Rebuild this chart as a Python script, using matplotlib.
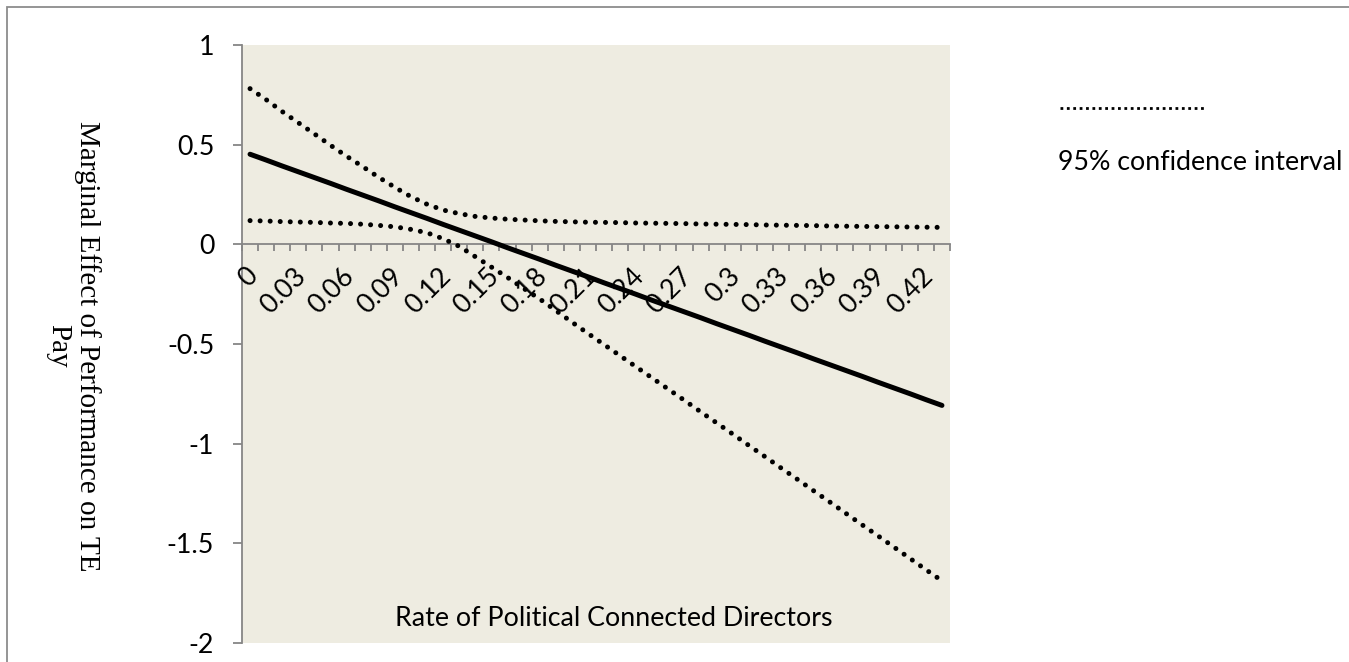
import matplotlib
matplotlib.use("Agg")
import matplotlib.pyplot as plt
from matplotlib.lines import Line2D
from matplotlib.patches import Rectangle
from matplotlib.ticker import FixedLocator, FuncFormatter, NullFormatter

# Rate of politically connected directors (category axis)
rates = [0.00, 0.01, 0.02, 0.03, 0.04, 0.05, 0.06, 0.07, 0.08, 0.09,
         0.10, 0.11, 0.12, 0.13, 0.14, 0.15, 0.16, 0.17, 0.18, 0.19,
         0.20, 0.21, 0.22, 0.23, 0.24, 0.25, 0.26, 0.27, 0.28, 0.29,
         0.30, 0.31, 0.32, 0.33, 0.34, 0.35, 0.36, 0.37, 0.38, 0.39,
         0.40, 0.41, 0.42, 0.43]

# Marginal effect of performance on TE pay
effect = [0.452, 0.423, 0.393, 0.364, 0.335, 0.306, 0.276, 0.247, 0.218, 0.188,
          0.159, 0.130, 0.100, 0.071, 0.042, 0.013, -0.017, -0.046, -0.075, -0.105,
          -0.134, -0.163, -0.193, -0.222, -0.251, -0.281, -0.310, -0.339, -0.368, -0.398,
          -0.427, -0.456, -0.486, -0.515, -0.544, -0.574, -0.603, -0.632, -0.661, -0.691,
          -0.720, -0.749, -0.779, -0.808]

# 95% confidence interval bounds
ci_high = [0.781, 0.726, 0.666, 0.610, 0.554, 0.497, 0.442, 0.390, 0.336, 0.286,
           0.239, 0.201, 0.172, 0.154, 0.140, 0.132, 0.126, 0.122, 0.118, 0.115,
           0.113, 0.111, 0.110, 0.109, 0.107, 0.106, 0.105, 0.104, 0.102, 0.101,
           0.100, 0.099, 0.097, 0.096, 0.095, 0.094, 0.092, 0.091, 0.090, 0.089,
           0.088, 0.087, 0.086, 0.085]
ci_low = [0.119, 0.117, 0.114, 0.112, 0.110, 0.107, 0.105, 0.101, 0.095, 0.088,
          0.075, 0.058, 0.028, -0.010, -0.062, -0.114, -0.166, -0.221, -0.274, -0.332,
          -0.390, -0.447, -0.503, -0.559, -0.615, -0.671, -0.727, -0.783, -0.840, -0.896,
          -0.952, -1.009, -1.065, -1.122, -1.178, -1.235, -1.291, -1.348, -1.405, -1.461,
          -1.518, -1.575, -1.632, -1.688]

y_ticks = [-2, -1.5, -1, -0.5, 0, 0.5, 1]

SANS = ["Lato", "DejaVu Sans"]
SERIF = ["Liberation Serif", "DejaVu Serif"]
AXIS_GREY = "#868686"
FS = 19.3

W, H = 1349, 662
fig = plt.figure(figsize=(W / 100, H / 100), dpi=100)
fig.patch.set_facecolor("white")

# chart frame (top and left edges visible)
fig.add_artist(Rectangle((7 / W, -0.1), 1.2, 1 - 6.5 / H + 0.1,
                         transform=fig.transFigure, fill=False,
                         edgecolor="#8c8c8c", linewidth=1.3))

ax = fig.add_axes([242 / W, 1 - 643 / H, (950 - 242) / W, (643 - 45) / H])
ax.set_facecolor("#EEECE1")

pos = list(range(len(rates)))
dot_style = dict(color="black", linewidth=3.6, linestyle=(0, (0.01, 2.0)),
                 dash_capstyle="round", solid_capstyle="round")
ax.plot(pos, ci_high, **dot_style, zorder=3)
ax.plot(pos, ci_low, **dot_style, zorder=3)
ax.plot(pos, effect, color="black", linewidth=3.6, solid_capstyle="round", zorder=4)

ax.set_xlim(-0.5, len(rates) - 0.5)
ax.set_ylim(-2, 1)

for s in ("top", "right"):
    ax.spines[s].set_visible(False)
ax.spines["left"].set_color(AXIS_GREY)
ax.spines["left"].set_linewidth(1.3)
ax.spines["bottom"].set_color(AXIS_GREY)
ax.spines["bottom"].set_linewidth(1.3)
ax.spines["bottom"].set_position(("data", 0))

# y axis
ax.yaxis.set_major_locator(FixedLocator(y_ticks))
ax.yaxis.set_major_formatter(FuncFormatter(lambda v, p: f"{v:g}"))
ax.tick_params(axis="y", direction="out", length=6.5, width=1.3, color=AXIS_GREY,
               pad=13.5, labelsize=FS)
for lab in ax.get_yticklabels():
    lab.set_fontfamily(SANS)

# x axis: tick marks between categories, labels every third category
ax.xaxis.set_major_locator(FixedLocator([p - 0.5 for p in pos] + [pos[-1] + 0.5]))
ax.xaxis.set_major_formatter(NullFormatter())
ax.tick_params(axis="x", which="major", direction="out", length=5.0, width=1.3,
               color=AXIS_GREY)
for p in pos[::3]:
    ax.annotate(f"{rates[p]:g}", xy=(p, 0), xycoords="data",
                xytext=(-5, -19), textcoords="offset pixels",
                rotation=45, rotation_mode="anchor", ha="right", va="top",
                fontsize=FS, family=SANS, annotation_clip=False)

# axis titles
ax.text((614 - 242) / (950 - 242), (643 - 618) / (643 - 45),
        "Rate of Political Connected Directors", transform=ax.transAxes,
        ha="center", va="center", fontsize=FS, family=SANS)
fig.text(73 / W, 1 - 346 / H, "Marginal Effect of Performance on TE\nPay",
         rotation=270, ha="center", va="center", multialignment="center",
         fontsize=21, family=SERIF, linespacing=1.1)

# legend entry for the confidence interval
fig.add_artist(Line2D([1060 / W, 1204 / W], [1 - 108 / H, 1 - 108 / H],
                      transform=fig.transFigure, color="black", linewidth=2.0,
                      linestyle=(0, (1, 1.3)), dash_capstyle="butt"))
fig.text(1058 / W, 1 - 163 / H, "95% confidence interval", ha="left", va="center",
         fontsize=FS, family=SANS)

fig.savefig("out.png", dpi=100, facecolor="white")
